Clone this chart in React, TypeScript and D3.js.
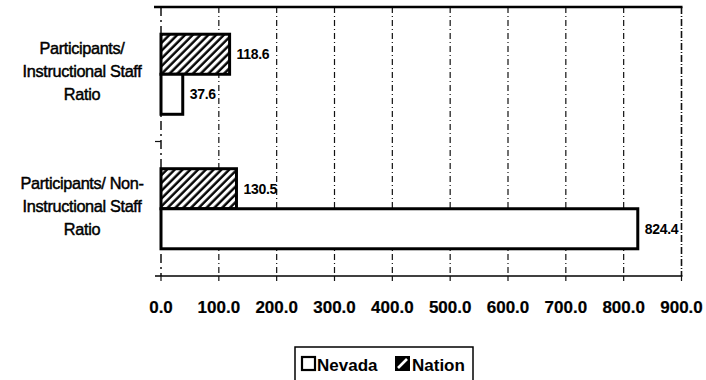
import React from "react";
import * as d3 from "d3";

const categories = [
  ["Participants/", "Instructional Staff", "Ratio"],
  ["Participants/ Non-", "Instructional Staff", "Ratio"],
];
const categoryKeys = ["instr", "noninstr"];
const seriesNames = ["Nation", "Nevada"];
const nationValues = [118.6, 130.5];
const nevadaValues = [37.6, 824.4];
const xTicks = [0, 100, 200, 300, 400, 500, 600, 700, 800, 900];

const W = 706;
const H = 380;
const left = 161;
const right = 681.5;
const top = 7;
const bottom = 276;

export default function App() {
  const x = d3.scaleLinear().domain([0, 900]).range([left, right]);
  const y0 = d3.scaleBand<string>().domain(categoryKeys).range([top, bottom]).padding(0);
  const y1 = d3
    .scaleBand<string>()
    .domain(seriesNames)
    .range([0, y0.bandwidth()])
    .paddingInner(0)
    .paddingOuter(0.68);

  const seriesValues: Record<string, number[]> = { Nation: nationValues, Nevada: nevadaValues };
  const font = "'Liberation Sans', Arial, sans-serif";

  return (
    <svg
      width={W}
      height={H}
      style={{ position: "absolute", left: 0, top: 0, background: "#fff" }}
      fontFamily={font}
    >
      <defs>
        <pattern
          id="hatch"
          patternUnits="userSpaceOnUse"
          width={5.5}
          height={5.5}
          patternTransform="rotate(45)"
        >
          <rect width={5.5} height={5.5} fill="#fff" />
          <line x1={1.5} y1={0} x2={1.5} y2={5.5} stroke="#000" strokeWidth={2.4} />
        </pattern>
      </defs>
      <rect x={0} y={0} width={W} height={H} fill="#fff" />

      {/* gridlines */}
      {xTicks.slice(1).map((t) => (
        <line
          key={"g" + t}
          x1={x(t)}
          x2={x(t)}
          y1={top}
          y2={bottom}
          stroke="#111"
          strokeWidth={t === 900 ? 1.6 : 1.2}
          strokeDasharray={t === 900 ? "7,2,1,2" : "6,3,1,3"}
        />
      ))}
      {/* left axis */}
      <line x1={left} x2={left} y1={top} y2={bottom} stroke="#111" strokeWidth={1.5} strokeDasharray="9,4,2,4" />
      {categoryKeys.map((k) => (
        <line key={"ct" + k} x1={left - 6} x2={left} y1={y0(k)!} y2={y0(k)!} stroke="#111" strokeWidth={1.2} />
      ))}
      {/* top border */}
      <line x1={left - 7} x2={right + 1} y1={top} y2={top} stroke="#000" strokeWidth={2.5} />
      {/* x axis */}
      <line x1={left - 6} x2={right + 1} y1={bottom} y2={bottom} stroke="#000" strokeWidth={1.6} />
      {xTicks.map((t) => (
        <line key={"t" + t} x1={x(t)} x2={x(t)} y1={bottom} y2={bottom + 5} stroke="#111" strokeWidth={1.2} />
      ))}
      {xTicks.map((t) => (
        <text
          key={"tl" + t}
          x={x(t)}
          y={313}
          textAnchor="middle"
          fontSize={17}
          fontWeight="bold"
          fill="#000"
          stroke="#000"
          strokeWidth={0.2}
        >
          {d3.format(".1f")(t)}
        </text>
      ))}

      {/* bars */}
      {categoryKeys.map((k, i) =>
        seriesNames.map((s) => {
          const v = seriesValues[s][i];
          const by = y0(k)! + y1(s)!;
          const bh = y1.bandwidth();
          return (
            <g key={k + s}>
              <rect
                x={x(0)}
                y={by}
                width={x(v) - x(0)}
                height={bh}
                fill={s === "Nation" ? "url(#hatch)" : "#fff"}
                stroke="#000"
                strokeWidth={3}
              />
              <text
                x={x(v) + 7}
                y={by + bh / 2 + 5}
                fontSize={14}
                fontWeight="bold"
                fill="#000"
                letterSpacing={-0.3}
              >
                {d3.format(".1f")(v)}
              </text>
            </g>
          );
        })
      )}

      {/* category labels */}
      {categoryKeys.map((k, i) => {
        const cy = y0(k)! + y0.bandwidth() / 2 + 3;
        return (
          <text
            key={"cl" + k}
            x={82}
            textAnchor="middle"
            fontSize={16.3}
            fill="#000"
            stroke="#000"
            strokeWidth={0.45}
            letterSpacing={-0.35}
          >
            {categories[i].map((line, j) => (
              <tspan key={j} x={82} y={cy + (j - 1) * 23}>
                {line}
              </tspan>
            ))}
          </text>
        );
      })}

      {/* legend */}
      <rect x={295} y={347} width={178} height={40} fill="#fff" stroke="#000" strokeWidth={1.5} />
      <rect x={302} y={357} width={13} height={13} fill="#fff" stroke="#000" strokeWidth={2.2} />
      <text x={317} y={371} fontSize={17} fontWeight="bold" fill="#000">
        Nevada
      </text>
      <rect x={395} y={356} width={15} height={15} fill="#000" />
      <line x1={398} y1={368} x2={407} y2={359} stroke="#fff" strokeWidth={2.6} />
      <text x={412} y={371} fontSize={17} fontWeight="bold" fill="#000">
        Nation
      </text>
    </svg>
  );
}
